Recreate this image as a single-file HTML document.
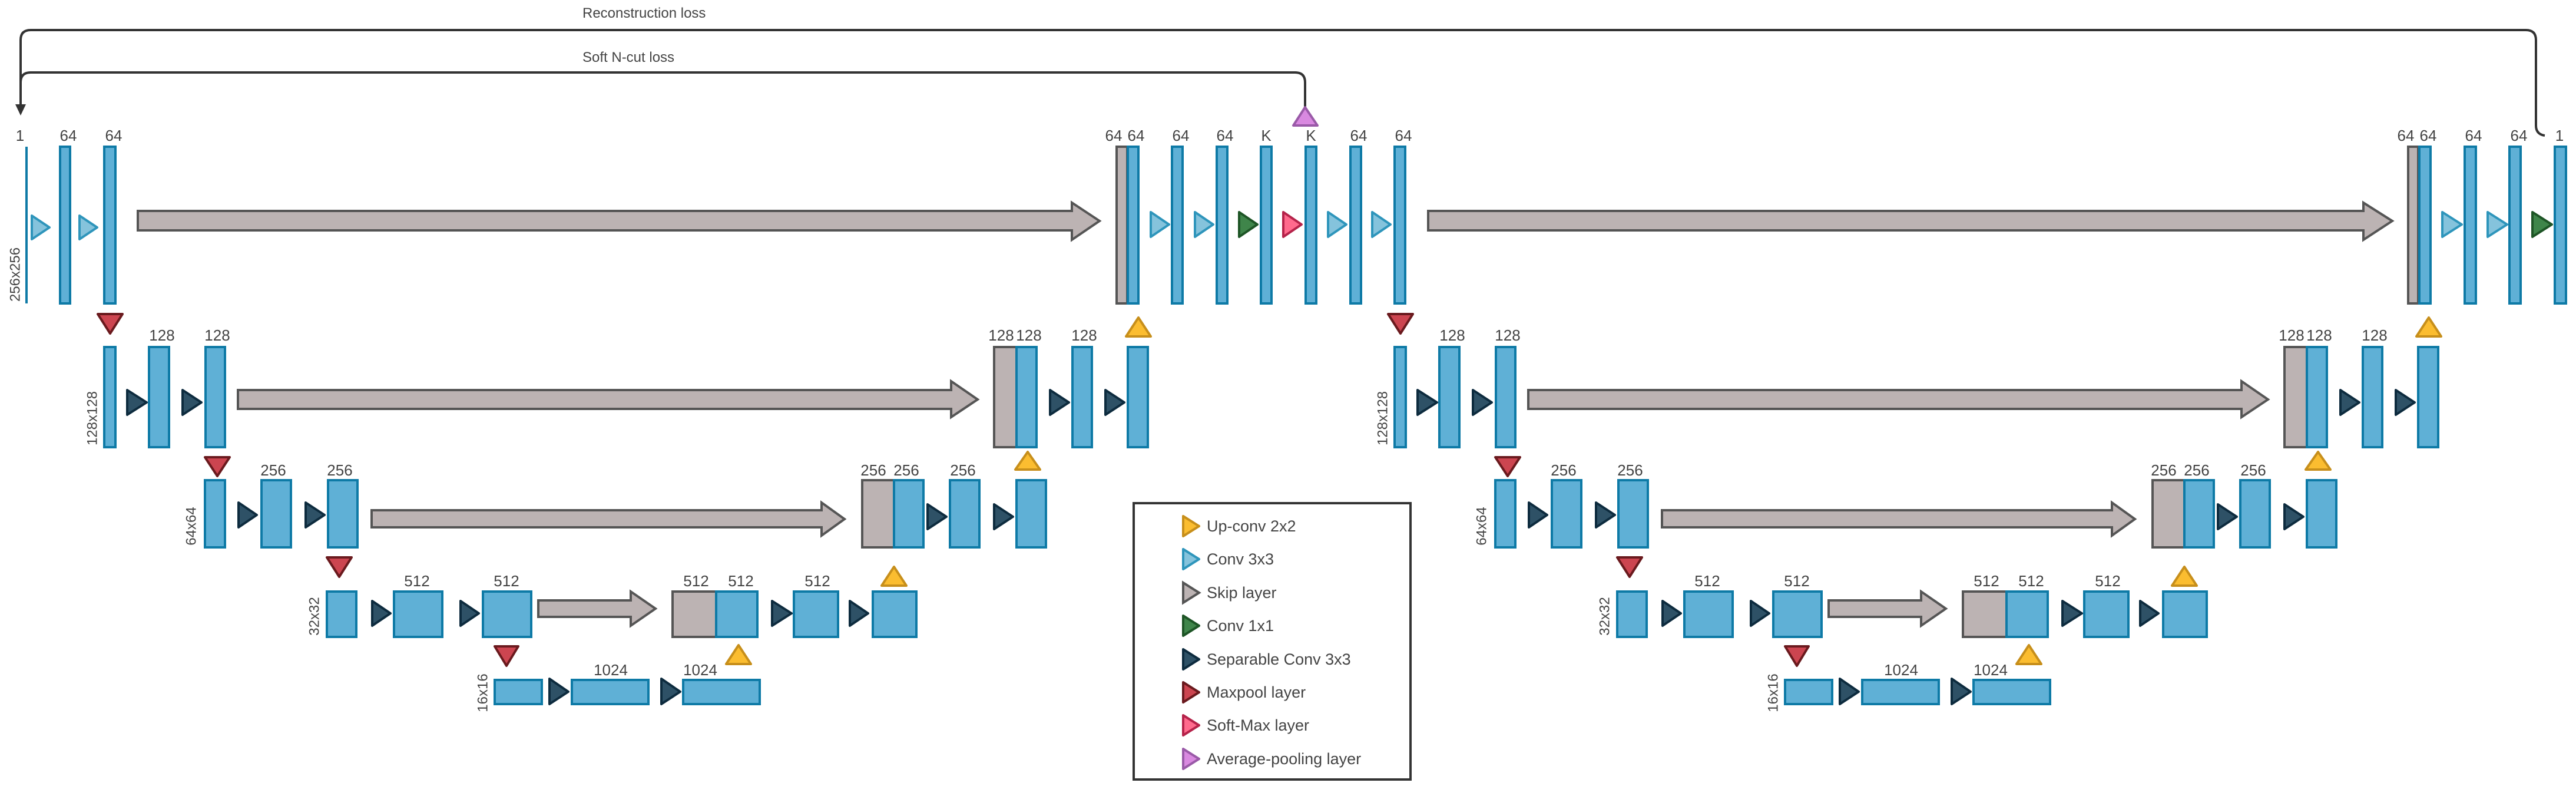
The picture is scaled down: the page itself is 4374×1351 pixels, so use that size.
<!DOCTYPE html>
<html><head><meta charset="utf-8"><style>
html,body{margin:0;padding:0;background:#fff;}
svg{display:block;}
text{font-family:"Liberation Sans",sans-serif;fill:#444;}
.b{fill:#5fb0d6;stroke:#0e7aa6;stroke-width:4;}
.g{fill:#bcb3b3;stroke:#555;stroke-width:4;}
.c{fill:#85c3dc;stroke:#2e95bb;stroke-width:4;stroke-linejoin:round;}
.s{fill:#2e5166;stroke:#0d2b3e;stroke-width:4;stroke-linejoin:round;}
.m{fill:#cc4550;stroke:#6a1a1e;stroke-width:4;stroke-linejoin:round;}
.u{fill:#fbbd30;stroke:#c78f1b;stroke-width:4;stroke-linejoin:round;}
.gr{fill:#3f854a;stroke:#1e5526;stroke-width:4;stroke-linejoin:round;}
.p{fill:#ff6a8d;stroke:#b5234a;stroke-width:4;stroke-linejoin:round;}
.a{fill:#d989e0;stroke:#9a5aa8;stroke-width:4;stroke-linejoin:round;}
.l{font-size:26px;text-anchor:middle;}
.r{font-size:24px;text-anchor:middle;}
.lg{font-size:27px;}
</style></head><body>
<svg width="4374" height="1351" viewBox="0 0 4374 1351" xmlns="http://www.w3.org/2000/svg">
<!-- loss lines -->
<path d="M4321,230 Q4306,228 4306,213 V68 Q4306,51 4289,51 H52 Q35,51 35,68 V180" fill="none" stroke="#333" stroke-width="4"/>
<path d="M2216,181 V140 Q2216,123 2199,123 H52 Q35,123 35,140 V180" fill="none" stroke="#333" stroke-width="4"/>
<polygon points="26,177 44,177 35,196" fill="#333"/>
<text x="989" y="30" style="font-size:24px">Reconstruction loss</text>
<text x="989" y="105" style="font-size:24px">Soft N-cut loss</text>

<!-- Row1 left -->
<line x1="45" y1="249" x2="45" y2="515" stroke="#0e7aa6" stroke-width="4"/>
<rect class="b" x="102" y="249" width="17" height="266"/>
<rect class="b" x="177" y="249" width="19" height="266"/>
<polygon class="c" points="54,366 84,386 54,406"/>
<polygon class="c" points="135,366 165,386 135,406"/>
<polygon class="g" points="234,358 1820,358 1820,344 1867,375 1820,407 1820,391 234,391"/>
<text class="l" x="34" y="239">1</text><text class="l" x="116" y="239">64</text><text class="l" x="193" y="239">64</text>
<text class="r" transform="translate(26,466) rotate(-90)" dominant-baseline="central">256x256</text>

<!-- Row1 mid -->
<rect class="g" x="1896" y="249" width="18" height="266"/>
<rect class="b" x="1915" y="249" width="18" height="266"/>
<rect class="b" x="1990" y="249" width="18" height="266"/>
<rect class="b" x="2066" y="249" width="18" height="266"/>
<rect class="b" x="2141" y="249" width="18" height="266"/>
<rect class="b" x="2217" y="249" width="18" height="266"/>
<rect class="b" x="2293" y="249" width="18" height="266"/>
<rect class="b" x="2368" y="249" width="18" height="266"/>
<polygon class="c" points="1954,360 1985,381 1954,402"/>
<polygon class="c" points="2029,360 2060,381 2029,402"/>
<polygon class="gr" points="2104,360 2135,381 2104,402"/>
<polygon class="p" points="2179,360 2210,381 2179,402"/>
<polygon class="c" points="2255,360 2286,381 2255,402"/>
<polygon class="c" points="2330,360 2361,381 2330,402"/>
<polygon class="a" points="2196,213 2237,213 2216,182"/>
<text class="l" x="1891" y="239">64</text><text class="l" x="1929" y="239">64</text><text class="l" x="2005" y="239">64</text><text class="l" x="2080" y="239">64</text><text class="l" x="2150" y="239">K</text><text class="l" x="2226" y="239">K</text><text class="l" x="2307" y="239">64</text><text class="l" x="2383" y="239">64</text>
<polygon class="g" points="2425,358 4013,358 4013,344 4062,375 4013,407 4013,391 2425,391"/>

<!-- Row1 right -->
<rect class="g" x="4089" y="249" width="17" height="266"/>
<rect class="b" x="4108" y="249" width="19" height="266"/>
<rect class="b" x="4185" y="249" width="19" height="266"/>
<rect class="b" x="4261" y="249" width="19" height="266"/>
<rect class="b" x="4338" y="249" width="19" height="266"/>
<polygon class="c" points="4147,360 4180,381 4147,402"/>
<polygon class="c" points="4224,360 4257,381 4224,402"/>
<polygon class="gr" points="4300,360 4333,381 4300,402"/>
<text class="l" x="4085" y="239">64</text><text class="l" x="4123" y="239">64</text><text class="l" x="4200" y="239">64</text><text class="l" x="4277" y="239">64</text><text class="l" x="4346" y="239">1</text>

<!-- UNet lower part 1 -->
<g id="u1">
<polygon class="m" points="166,533 208,533 187,566"/>
<rect class="b" x="177" y="589" width="19" height="170"/>
<rect class="b" x="253" y="589" width="34" height="170"/>
<rect class="b" x="349" y="589" width="33" height="170"/>
<polygon class="s" points="216,662 249,683 216,704"/>
<polygon class="s" points="310,662 342,683 310,704"/>
<polygon class="g" points="404,662 1615,662 1615,647 1660,678 1615,708 1615,694 404,694"/>
<rect class="g" x="1688" y="589" width="38" height="170"/>
<rect class="b" x="1726" y="589" width="34" height="170"/>
<rect class="b" x="1821" y="589" width="33" height="170"/>
<rect class="b" x="1915" y="589" width="34" height="170"/>
<polygon class="s" points="1783,662 1815,683 1783,704"/>
<polygon class="s" points="1877,662 1909,683 1877,704"/>
<polygon class="u" points="1912,571 1954,571 1933,539"/>
<text class="l" x="275" y="578">128</text><text class="l" x="369" y="578">128</text><text class="l" x="1700" y="578">128</text><text class="l" x="1747" y="578">128</text><text class="l" x="1841" y="578">128</text>
<text class="r" transform="translate(157,710) rotate(-90)" dominant-baseline="central">128x128</text>

<polygon class="m" points="348,776 390,776 369,808"/>
<rect class="b" x="348" y="815" width="34" height="114"/>
<rect class="b" x="444" y="815" width="50" height="114"/>
<rect class="b" x="557" y="815" width="50" height="114"/>
<polygon class="s" points="405,853 436,874 405,895"/>
<polygon class="s" points="519,853 551,874 519,895"/>
<polygon class="g" points="631,866 1395,866 1395,853 1434,881 1395,909 1395,895 631,895"/>
<rect class="g" x="1464" y="815" width="54" height="114"/>
<rect class="b" x="1518" y="815" width="50" height="114"/>
<rect class="b" x="1613" y="815" width="50" height="114"/>
<rect class="b" x="1726" y="815" width="50" height="114"/>
<polygon class="s" points="1575,856 1607,877 1575,898"/>
<polygon class="s" points="1688,856 1720,877 1688,898"/>
<polygon class="u" points="1724,797 1766,797 1745,767"/>
<text class="l" x="464" y="807">256</text><text class="l" x="577" y="807">256</text><text class="l" x="1483" y="807">256</text><text class="l" x="1539" y="807">256</text><text class="l" x="1635" y="807">256</text>
<text class="r" transform="translate(325,893) rotate(-90)" dominant-baseline="central">64x64</text>

<polygon class="m" points="555,946 597,946 576,979"/>
<rect class="b" x="555" y="1004" width="50" height="77"/>
<rect class="b" x="669" y="1004" width="82" height="77"/>
<rect class="b" x="820" y="1004" width="82" height="77"/>
<polygon class="s" points="632,1020 663,1041 632,1062"/>
<polygon class="s" points="782,1020 813,1041 782,1062"/>
<polygon class="g" points="914,1019 1071,1019 1071,1004 1113,1033 1071,1062 1071,1047 914,1047"/>
<rect class="g" x="1142" y="1004" width="74" height="77"/>
<rect class="b" x="1216" y="1004" width="70" height="77"/>
<rect class="b" x="1348" y="1004" width="75" height="77"/>
<rect class="b" x="1482" y="1004" width="74" height="77"/>
<polygon class="s" points="1311,1020 1344,1041 1311,1062"/>
<polygon class="s" points="1443,1020 1474,1041 1443,1062"/>
<polygon class="u" points="1497,994 1539,994 1518,962"/>
<text class="l" x="708" y="995">512</text><text class="l" x="860" y="995">512</text><text class="l" x="1182" y="995">512</text><text class="l" x="1258" y="995">512</text><text class="l" x="1388" y="995">512</text>
<text class="r" transform="translate(534,1046) rotate(-90)" dominant-baseline="central">32x32</text>

<polygon class="m" points="840,1097 880,1097 860,1130"/>
<rect class="b" x="840" y="1154" width="80" height="41"/>
<rect class="b" x="971" y="1154" width="130" height="41"/>
<rect class="b" x="1160" y="1154" width="130" height="41"/>
<polygon class="s" points="933,1152 965,1174 933,1195"/>
<polygon class="s" points="1123,1152 1155,1174 1123,1195"/>
<polygon class="u" points="1233,1127 1275,1127 1254,1095"/>
<text class="l" x="1037" y="1146">1024</text><text class="l" x="1189" y="1146">1024</text>
<text class="r" transform="translate(820,1176) rotate(-90)" dominant-baseline="central">16x16</text>
</g>

<!-- UNet lower part 2 -->
<g transform="translate(2191,0)">
<polygon class="m" points="166,533 208,533 187,566"/>
<rect class="b" x="177" y="589" width="19" height="170"/>
<rect class="b" x="253" y="589" width="34" height="170"/>
<rect class="b" x="349" y="589" width="33" height="170"/>
<polygon class="s" points="216,662 249,683 216,704"/>
<polygon class="s" points="310,662 342,683 310,704"/>
<polygon class="g" points="404,662 1615,662 1615,647 1660,678 1615,708 1615,694 404,694"/>
<rect class="g" x="1688" y="589" width="38" height="170"/>
<rect class="b" x="1726" y="589" width="34" height="170"/>
<rect class="b" x="1821" y="589" width="33" height="170"/>
<rect class="b" x="1915" y="589" width="34" height="170"/>
<polygon class="s" points="1783,662 1815,683 1783,704"/>
<polygon class="s" points="1877,662 1909,683 1877,704"/>
<polygon class="u" points="1912,571 1954,571 1933,539"/>
<text class="l" x="275" y="578">128</text><text class="l" x="369" y="578">128</text><text class="l" x="1700" y="578">128</text><text class="l" x="1747" y="578">128</text><text class="l" x="1841" y="578">128</text>
<text class="r" transform="translate(157,710) rotate(-90)" dominant-baseline="central">128x128</text>

<polygon class="m" points="348,776 390,776 369,808"/>
<rect class="b" x="348" y="815" width="34" height="114"/>
<rect class="b" x="444" y="815" width="50" height="114"/>
<rect class="b" x="557" y="815" width="50" height="114"/>
<polygon class="s" points="405,853 436,874 405,895"/>
<polygon class="s" points="519,853 551,874 519,895"/>
<polygon class="g" points="631,866 1395,866 1395,853 1434,881 1395,909 1395,895 631,895"/>
<rect class="g" x="1464" y="815" width="54" height="114"/>
<rect class="b" x="1518" y="815" width="50" height="114"/>
<rect class="b" x="1613" y="815" width="50" height="114"/>
<rect class="b" x="1726" y="815" width="50" height="114"/>
<polygon class="s" points="1575,856 1607,877 1575,898"/>
<polygon class="s" points="1688,856 1720,877 1688,898"/>
<polygon class="u" points="1724,797 1766,797 1745,767"/>
<text class="l" x="464" y="807">256</text><text class="l" x="577" y="807">256</text><text class="l" x="1483" y="807">256</text><text class="l" x="1539" y="807">256</text><text class="l" x="1635" y="807">256</text>
<text class="r" transform="translate(325,893) rotate(-90)" dominant-baseline="central">64x64</text>

<polygon class="m" points="555,946 597,946 576,979"/>
<rect class="b" x="555" y="1004" width="50" height="77"/>
<rect class="b" x="669" y="1004" width="82" height="77"/>
<rect class="b" x="820" y="1004" width="82" height="77"/>
<polygon class="s" points="632,1020 663,1041 632,1062"/>
<polygon class="s" points="782,1020 813,1041 782,1062"/>
<polygon class="g" points="914,1019 1071,1019 1071,1004 1113,1033 1071,1062 1071,1047 914,1047"/>
<rect class="g" x="1142" y="1004" width="74" height="77"/>
<rect class="b" x="1216" y="1004" width="70" height="77"/>
<rect class="b" x="1348" y="1004" width="75" height="77"/>
<rect class="b" x="1482" y="1004" width="74" height="77"/>
<polygon class="s" points="1311,1020 1344,1041 1311,1062"/>
<polygon class="s" points="1443,1020 1474,1041 1443,1062"/>
<polygon class="u" points="1497,994 1539,994 1518,962"/>
<text class="l" x="708" y="995">512</text><text class="l" x="860" y="995">512</text><text class="l" x="1182" y="995">512</text><text class="l" x="1258" y="995">512</text><text class="l" x="1388" y="995">512</text>
<text class="r" transform="translate(534,1046) rotate(-90)" dominant-baseline="central">32x32</text>

<polygon class="m" points="840,1097 880,1097 860,1130"/>
<rect class="b" x="840" y="1154" width="80" height="41"/>
<rect class="b" x="971" y="1154" width="130" height="41"/>
<rect class="b" x="1160" y="1154" width="130" height="41"/>
<polygon class="s" points="933,1152 965,1174 933,1195"/>
<polygon class="s" points="1123,1152 1155,1174 1123,1195"/>
<polygon class="u" points="1233,1127 1275,1127 1254,1095"/>
<text class="l" x="1037" y="1146">1024</text><text class="l" x="1189" y="1146">1024</text>
<text class="r" transform="translate(820,1176) rotate(-90)" dominant-baseline="central">16x16</text>
</g>

<!-- Legend -->
<rect x="1925" y="854" width="470" height="469" fill="#fff" stroke="#333" stroke-width="4"/>
<polygon class="u" points="2009,876 2036,893 2009,910"/>
<polygon class="c" points="2009,932 2036,949 2009,966"/>
<polygon class="g" points="2009,989 2036,1006 2009,1023"/>
<polygon class="gr" points="2009,1045 2036,1062 2009,1079"/>
<polygon class="s" points="2009,1102 2036,1119 2009,1136"/>
<polygon class="m" points="2009,1158 2036,1175 2009,1192"/>
<polygon class="p" points="2009,1214 2036,1231 2009,1248"/>
<polygon class="a" points="2009,1271 2036,1288 2009,1305"/>
<text class="lg" x="2049" y="902">Up-conv 2x2</text>
<text class="lg" x="2049" y="958">Conv 3x3</text>
<text class="lg" x="2049" y="1015">Skip layer</text>
<text class="lg" x="2049" y="1071">Conv 1x1</text>
<text class="lg" x="2049" y="1128">Separable Conv 3x3</text>
<text class="lg" x="2049" y="1184">Maxpool layer</text>
<text class="lg" x="2049" y="1240">Soft-Max layer</text>
<text class="lg" x="2049" y="1297">Average-pooling layer</text>
</svg>
</body></html>
